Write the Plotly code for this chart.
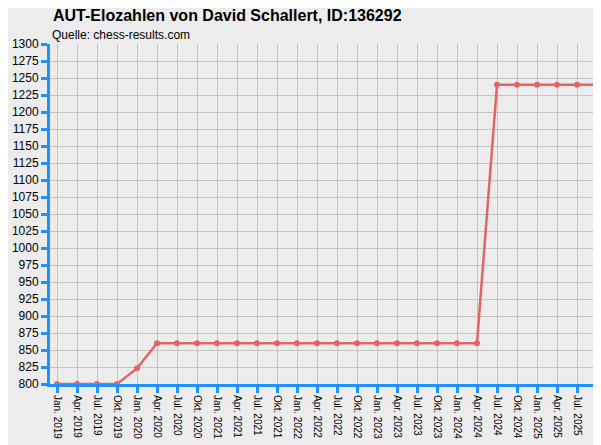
import plotly.graph_objects as go

months = ['Jan.', 'Apr.', 'Jul.', 'Okt.']
dates = [m + ' ' + str(y) for y in range(2019, 2026) for m in months]
elo = [800, 800, 800, 800, 823,
       860, 860, 860, 860, 860, 860, 860, 860, 860, 860, 860, 860, 860, 860, 860, 860, 860,
       1240, 1240, 1240, 1240, 1240, 1240]
y_ticks = list(range(800, 1301, 25))

fig = go.Figure(go.Scatter(
    x=list(range(len(dates))), y=elo, mode='lines+markers',
    line=dict(color='#e06666', width=2.5),
    marker=dict(color='#e06666', size=6)))

fig.update_layout(
    width=601, height=445,
    paper_bgcolor='#ececec', plot_bgcolor='#ececec',
    margin=dict(l=42, r=5, t=36, b=69, autoexpand=False),
    showlegend=False,
    font=dict(family='Liberation Sans, Arial', color='black', size=12),
    title=dict(text='<b>AUT-Elozahlen von David Schallert, ID:136292</b>',
               xref='container', yref='container',
               x=45 / 601, xanchor='left', y=0.995, yanchor='top', font=dict(size=16)),
    annotations=[dict(text='Quelle: chess-results.com', xref='paper', yref='paper',
                      x=0.0, y=1.0, xanchor='left', yanchor='bottom',
                      showarrow=False, font=dict(size=12))])

fig.update_xaxes(
    tickmode='array', tickvals=list(range(len(dates))), ticktext=dates,
    range=[-0.35, len(dates) - 0.65], tickangle=90, tickfont=dict(size=10),
    showgrid=True, gridcolor='#c4c4c4', gridwidth=1, automargin=False,
    showline=True, linecolor='#1e90ff', linewidth=3,
    ticks='outside', tickcolor='#1e90ff', ticklen=6, tickwidth=3, zeroline=False)
fig.update_yaxes(
    tickmode='array', tickvals=y_ticks, range=[800, 1300],
    showgrid=True, gridcolor='#c4c4c4', gridwidth=1, automargin=False,
    showline=True, linecolor='#1e90ff', linewidth=3,
    ticks='outside', tickcolor='#1e90ff', ticklen=6, tickwidth=3, zeroline=False)

fig.write_html('out.html')
